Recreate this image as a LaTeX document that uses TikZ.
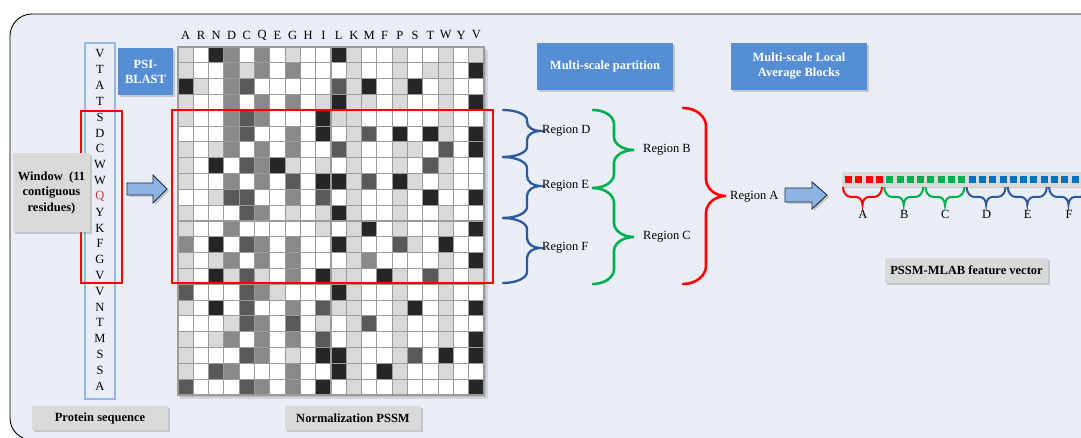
\documentclass[tikz,border=0pt]{standalone}
\usepackage{fontspec}
\setmainfont{Liberation Serif}
\usetikzlibrary{shadows}
\definecolor{bg}{RGB}{233,237,245}
\definecolor{boxgray}{RGB}{217,217,217}
\definecolor{boxblue}{RGB}{85,142,213}
\definecolor{arrowblue}{RGB}{142,180,227}
\definecolor{arrowline}{RGB}{31,45,70}
\definecolor{seqblue}{RGB}{150,185,228}
\definecolor{brblue}{RGB}{46,89,160}
\definecolor{brgreen}{RGB}{0,176,80}
\definecolor{brred}{RGB}{255,0,0}
\definecolor{sqblue}{RGB}{0,112,192}
\definecolor{qred}{RGB}{215,55,55}
\definecolor{c0}{RGB}{255,255,255}
\definecolor{c1}{RGB}{217,217,217}
\definecolor{c2}{RGB}{137,137,137}
\definecolor{c3}{RGB}{89,89,89}
\definecolor{c4}{RGB}{38,38,38}
\definecolor{gridgray}{RGB}{155,155,155}
% vertical curly brace: style, xa, xv, xt, y0, ym, y1, r(end), r(tip)
\newcommand\vbrace[9]{\draw[#1] (#2,#5) .. controls ({#2+0.55*(#3-#2)},#5) and (#3,{#5+0.45*#8}) .. (#3,#5+#8)
 -- (#3,#6-#9) .. controls (#3,{#6-0.45*#9}) and ({#3+0.45*(#4-#3)},#6) .. (#4,#6)
 .. controls ({#3+0.45*(#4-#3)},#6) and (#3,{#6+0.45*#9}) .. (#3,#6+#9)
 -- (#3,#7-#8) .. controls (#3,{#7-0.45*#8}) and ({#2+0.55*(#3-#2)},#7) .. (#2,#7);}
% horizontal brace (tip down): style, x0, x1, y0, yh, ytip
\newcommand\hbrace[6]{\draw[#1] (#2,#4) .. controls (#2,{#4+0.55*(#5-#4)}) and ({#2+3.5},#5) .. (#2+8,#5)
 -- ({(#2+#3)/2-6},#5) .. controls ({(#2+#3)/2-2.7},#5) and ({(#2+#3)/2},{#5+0.45*(#6-#5)}) .. ({(#2+#3)/2},#6)
 .. controls ({(#2+#3)/2},{#5+0.45*(#6-#5)}) and ({(#2+#3)/2+2.7},#5) .. ({(#2+#3)/2+6},#5)
 -- (#3-8,#5) .. controls ({#3-3.5},#5) and (#3,{#4+0.55*(#5-#4)}) .. (#3,#4);}
\begin{document}
\begin{tikzpicture}[x=1pt,y=-1pt,
  txt/.style={font=\fontsize{12.5}{15}\selectfont, inner sep=0pt},
  shad/.style={drop shadow={shadow xshift=2pt,shadow yshift=-2pt,opacity=0.35}},
  graybox/.style={shad, fill=boxgray, draw=none, align=center, inner sep=0pt,
    font=\fontsize{12.5}{15.5}\selectfont\bfseries},
  bluebox/.style={shad, fill=boxblue, draw=none, text=white, align=center, inner sep=0pt,
    font=\fontsize{12.5}{15}\selectfont\bfseries},
  blockarrow/.style={shad, fill=arrowblue, draw=arrowline, line width=0.9pt, line join=miter},
  bbrace/.style={brblue, line width=2.3pt, line cap=round},
  gbrace/.style={brgreen, line width=2.6pt, line cap=round},
  rbrace/.style={brred, line width=2.6pt, line cap=round},
  sbrace/.style={line width=2pt}]
\clip (0,0) rectangle (1081,438);
\fill[white] (0,0) rectangle (1081,438);
% frame
\draw[black, line width=0.9pt, fill=bg, rounded corners=22pt] (10,14) rectangle (1120,440);

% matrix shadow
\fill[black, opacity=0.10] (180,50) rectangle (488,399);
\fill[black, opacity=0.10] (179,49) rectangle (486,397);
% matrix
\foreach \rowvals [count=\r] in {
 {1,0,4,2,0,2,0,1,0,0,4,1,0,0,1,0,0,1,0,1},
 {1,0,0,2,1,2,0,2,0,0,0,1,0,0,1,0,1,1,0,4},
 {4,1,0,2,3,0,0,0,0,0,3,1,4,0,1,4,0,1,0,0},
 {1,0,0,2,0,2,0,2,0,1,4,1,1,0,1,0,0,1,0,4},
 {1,0,0,2,3,2,0,0,0,4,1,1,0,0,0,0,0,1,0,0},
 {0,0,0,2,3,0,0,2,0,4,0,1,3,0,4,0,4,1,0,4},
 {1,0,1,2,0,2,0,2,0,0,3,1,0,0,1,1,0,3,0,4},
 {1,0,4,0,3,2,4,1,0,1,0,1,0,0,1,0,3,1,0,0},
 {1,0,0,2,0,2,0,3,0,4,4,1,3,0,4,1,0,1,0,0},
 {0,0,1,3,3,0,0,2,0,3,0,1,0,0,1,0,4,0,0,4},
 {1,0,0,0,3,2,0,1,0,1,4,1,0,0,1,0,0,1,0,0},
 {1,0,0,2,0,0,0,0,0,1,0,1,4,0,1,0,0,1,0,4},
 {2,0,4,0,3,2,0,2,0,0,4,1,0,0,3,1,0,4,0,0},
 {1,0,1,2,0,2,0,2,0,0,0,1,2,0,0,0,0,1,0,4},
 {1,0,4,1,3,1,0,2,0,4,1,1,0,4,1,0,3,1,0,1},
 {3,0,0,0,3,2,1,0,0,0,4,1,0,0,1,0,0,1,0,0},
 {1,0,4,0,3,0,0,2,0,3,1,1,0,0,1,4,0,1,0,4},
 {0,0,0,1,3,2,0,3,0,1,0,1,3,0,1,0,0,1,0,0},
 {1,0,1,2,0,2,0,2,0,3,0,1,0,0,1,0,0,1,0,4},
 {1,0,0,0,3,2,0,1,0,4,4,1,0,0,1,3,0,4,0,4},
 {1,0,3,2,0,0,0,2,0,0,4,1,0,4,1,0,0,1,0,0},
 {3,0,0,0,3,2,0,2,0,4,0,1,0,0,1,0,0,0,0,4}} {
  \foreach \v [count=\c] in \rowvals {
    \path[fill=c\v, draw=gridgray, line width=1.1pt]
      ({178+15.3*(\c-1)},{47+15.82*(\r-1)}) rectangle ++(15.3,15.82);
  }
}
% column labels
\foreach \l [count=\c] in {A,R,N,D,C,Q,E,G,H,I,L,K,M,F,P,S,T,W,Y,V}
  \node[txt] (col\c) at ({178+15.3*(\c-0.5)},35) {\l};
% red window on matrix
\node[draw=red, line width=1.3pt, minimum width=321pt, minimum height=173pt, inner sep=0pt] (win) at (332.5,196.5) {};

% protein sequence column
\node[draw=seqblue, line width=1.4pt, minimum width=30pt, minimum height=356pt, inner sep=0pt] (seq) at (100,221) {};
\foreach \l/\col [count=\i] in {V/black,T/black,A/black,T/black,S/black,D/black,C/black,W/black,W/black,Q/qred,Y/black,K/black,F/black,G/black,V/black,V/black,N/black,T/black,M/black,S/black,S/black,A/black}
  \node[txt, text=\col] (aa\i) at (100,{47+15.82*(\i-0.5)-1}) {\l};
\node[draw=red, line width=1.3pt, minimum width=41pt, minimum height=172pt, inner sep=0pt] (seqwin) at (101.5,197) {};

% boxes
\node[graybox, minimum width=77pt, minimum height=79pt] (window) at (51.5,192.5) {Window\ \ (11\\contiguous\\residues)};
\node[bluebox, minimum width=55pt, minimum height=47pt] (psi) at (145.5,71.5) {PSI-\\BLAST};
\node[graybox, minimum width=136pt, minimum height=24pt] (protein) at (100,418) {Protein sequence};
\node[graybox, minimum width=136pt, minimum height=24pt] (norm) at (353,418) {Normalization PSSM};
\node[bluebox, minimum width=136pt, minimum height=47pt] (msp) at (605,66.5) {Multi-scale partition};
\node[bluebox, minimum width=136pt, minimum height=47pt] (mlab) at (799,66.5) {Multi-scale Local\\Average Blocks};
\node[graybox, minimum width=163pt, minimum height=25pt] (fv) at (966.5,270.5) {PSSM-MLAB feature vector};

% block arrows
\path[blockarrow] (127,183) -- (153,183) -- (153,175) -- (167,189) -- (153,203) -- (153,195) -- (127,195) -- cycle;
\path[blockarrow] (785,188) -- (812,188) -- (812,182) -- (827,195) -- (812,209) -- (812,202) -- (785,202) -- cycle;

% braces blue
\vbrace{bbrace}{503}{527}{540}{110}{131}{157}{10}{9}
\vbrace{bbrace}{503}{527}{540}{157}{186}{218}{11}{10}
\vbrace{bbrace}{503}{527}{540}{218}{248}{283}{11}{10}
% green
\vbrace{gbrace}{593}{614}{634}{110}{150}{188}{14}{13}
\vbrace{gbrace}{593}{614}{634}{188}{237}{284}{15}{14}
% red
\vbrace{rbrace}{683}{706}{726}{108}{196}{284}{18}{17}

\node[txt, anchor=west] (rD) at (542,131) {Region D};
\node[txt, anchor=west] (rE) at (542,186) {Region E};
\node[txt, anchor=west] (rF) at (542,248) {Region F};
\node[txt, anchor=west] (rB) at (643,150) {Region B};
\node[txt, anchor=west] (rC) at (643,237) {Region C};
\node[txt, anchor=west] (rA) at (730,197) {Region A};

% feature vector bar
\fill[boxgray, drop shadow={shadow xshift=1.5pt,shadow yshift=-1.5pt,opacity=0.3}] (842,172) rectangle (1090,187);
\foreach \k in {0,...,22} {
  \ifnum\k<4 \def\sqc{brred}\else\ifnum\k<12 \def\sqc{brgreen}\else\def\sqc{sqblue}\fi\fi
  \fill[\sqc] ({845+10.3*\k},176) rectangle ++(7,7);
}
% small braces
\hbrace{sbrace, brred}{843}{882}{187}{197}{205}
\hbrace{sbrace, brgreen}{884.2}{923.2}{187}{197}{205}
\hbrace{sbrace, brgreen}{925.4}{964.4}{187}{197}{205}
\hbrace{sbrace, brblue}{966.6}{1005.6}{187}{197}{205}
\hbrace{sbrace, brblue}{1007.8}{1046.8}{187}{197}{205}
\hbrace{sbrace, brblue}{1049}{1088}{187}{197}{205}
\foreach \l [count=\g] in {A,B,C,D,E,F}
  \node[txt] (lab\l) at ({845+41.2*(\g-1)+18},214) {\l};
\end{tikzpicture}
\end{document}
